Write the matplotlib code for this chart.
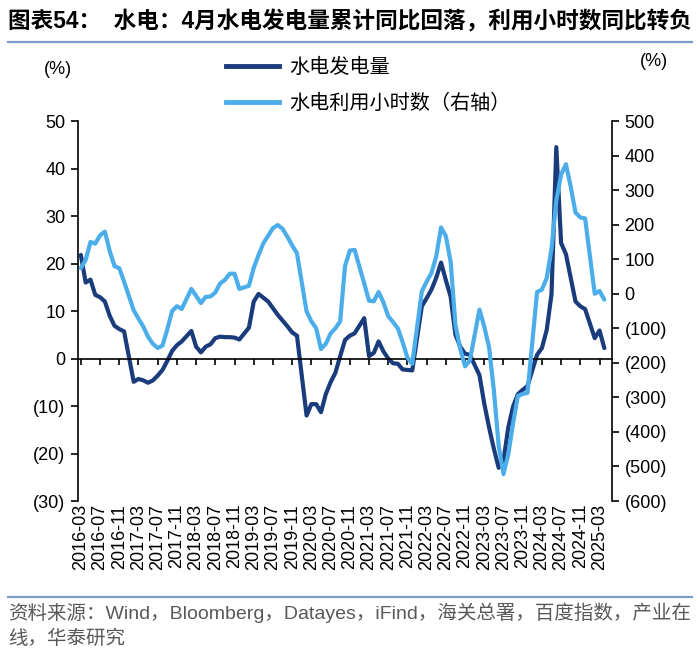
import numpy as np
import matplotlib
matplotlib.use("Agg")
import matplotlib.pyplot as plt
from matplotlib.lines import Line2D
from matplotlib.ticker import FuncFormatter, MultipleLocator

plt.rcParams['font.family'] = ['Liberation Sans', 'Noto Sans CJK SC']

# monthly axis, 2016-03 .. 2025-04 (January has no release -> None, line is joined across)
start_year, start_month, n_months = 2016, 3, 110
months = []
for k in range(n_months):
    mm = start_month - 1 + k
    months.append("%d-%02d" % (start_year + mm // 12, mm % 12 + 1))

# hydro generation, cumulative yoy (%), left axis
gen = [21.8, 16.0, 16.6, 13.4, 12.9, 12.0, 9.0, 6.9, 6.2, 5.7,
       None, -4.9, -4.3, -4.6, -5.1, -4.6, -3.6, -2.4, -0.5, 1.6,
       2.8, 3.6, None, 5.8, 2.5, 1.3, 2.5, 3.0, 4.3, 4.6,
       4.5, 4.5, 4.4, 4.0, None, 6.5, 12.0, 13.6, 12.8, 12.0,
       10.6, 9.2, 8.0, 6.8, 5.5, 4.8, None, -12.0, -9.6, -9.6,
       -11.3, -7.5, -5.0, -3.0, 0.5, 3.9, 4.8, 5.3, None, 8.5,
       0.5, 1.2, 3.6, 1.5, 0.0, -1.0, -1.1, -2.3, -2.4, -2.5,
       None, 11.0, 12.7, 14.5, 17.0, 20.2, 16.5, 13.0, 5.0, 2.5,
       1.0, 0.8, None, -3.5, -9.5, -14.5, -19.0, -23.0, -21.5, -14.5,
       -10.1, -7.5, -6.6, -5.8, None, 0.8, 2.2, 6.0, 13.5, 44.5,
       24.3, 22.0, 17.0, 12.0, 11.0, 10.4, None, 4.3, 5.9, 2.2]

# hydro utilisation hours yoy (%), right axis
hours = [74, 98, 150, 145, 169, 180, 124, 80, 74, 35,
         None, -48, -72, -95, -125, -145, -157, -150, -103, -50,
         -36, -44, None, 14, -6, -27, -9, -8, 4, 30,
         40, 58, 58, 14, None, 23, 75, 112, 146, 168,
         190, 199, 188, 165, 140, 117, None, -51, -80, -100,
         -160, -145, -115, -100, -80, 80, 125, 127, None, 30,
         -20, -22, 5, -25, -65, -82, -100, -140, -185, -203,
         None, 7, 35, 60, 108, 192, 167, 92, -90, -160,
         -210, -193, None, -46, -95, -155, -280, -440, -522, -465,
         -375, -296, -290, -287, None, 5, 12, 45, 130, 270,
         345, 375, 310, 235, 221, 218, None, 0, 8, -17]

labels = ['水电发电量', '水电利用小时数（右轴）']
dark = '#1A3B7C'
light = '#4BAEEA'


def paren(v, pos):
    v = int(round(v))
    return "(%d)" % -v if v < 0 else "%d" % v


x = np.arange(n_months)
g = np.array(gen, dtype=float)
h = np.array(hours, dtype=float)

fig = plt.figure(figsize=(7, 6.66), dpi=100)
ax = fig.add_axes([0.1114, 0.2477, 0.7629, 0.5706])
ax2 = ax.twinx()

mg = ~np.isnan(g)
mh = ~np.isnan(h)
ax.plot(x[mg], g[mg], color=dark, lw=3.0, solid_joinstyle='round', solid_capstyle='round')
ax2.plot(x[mh], h[mh], color=light, lw=3.0, solid_joinstyle='round', solid_capstyle='round')

ax.set_xlim(-0.6, 110.6)
ax.set_ylim(-30, 50)
ax2.set_ylim(-600, 500)
ax.yaxis.set_major_locator(MultipleLocator(10))
ax2.yaxis.set_major_locator(MultipleLocator(100))
ax.yaxis.set_major_formatter(FuncFormatter(paren))
ax2.yaxis.set_major_formatter(FuncFormatter(paren))

for a in (ax, ax2):
    a.spines['top'].set_visible(False)
    for s in a.spines.values():
        s.set_linewidth(1.2)
ax.spines['right'].set_visible(False)
ax2.spines['left'].set_visible(False)
ax2.spines['bottom'].set_visible(False)
ax.spines['bottom'].set_position(('data', 0))

ax.set_xticks(x[::4])
ax.tick_params(axis='x', direction='out', length=4, width=1.2, labelbottom=False)
ax.tick_params(axis='y', direction='out', length=5, width=1.2, labelsize=13, pad=4)
ax2.tick_params(axis='y', direction='out', length=5, width=1.2, labelsize=13, pad=4)

sec = ax.secondary_xaxis(0)
sec.set_xticks(x[::4], labels=months[::4], rotation=90)
sec.spines['bottom'].set_visible(False)
sec.tick_params(length=0, pad=2, labelsize=13)

fig.text(0.083, 0.895, '(%)', fontsize=13, ha='center', va='center')
fig.text(0.934, 0.907, '(%)', fontsize=13, ha='center', va='center')

handles = [Line2D([], [], color=dark, lw=3.5), Line2D([], [], color=light, lw=3.5)]
fig.legend(handles, labels, loc='upper left', bbox_to_anchor=(0.323, 0.914), frameon=False,
           prop={'family': ['Noto Sans CJK SC'], 'size': 14.5}, handlelength=2.65,
           handletextpad=0.5, labelspacing=0.75, borderpad=0, borderaxespad=0)

fig.text(0.011, 0.967, '图表54：  水电：4月水电发电量累计同比回落，利用小时数同比转负',
         fontsize=16.3, fontweight='bold', ha='left', va='center')
fig.add_artist(Line2D([0.012, 0.988], [0.937, 0.937], transform=fig.transFigure,
                      color='#7F9CC8', lw=1.6))
fig.add_artist(Line2D([0.012, 0.988], [0.104, 0.104], transform=fig.transFigure,
                      color='#7F9CC8', lw=1.6))
fig.text(0.011, 0.095, '资料来源：Wind，Bloomberg，Datayes，iFind，海关总署，百度指数，产业在\n线，华泰研究',
         fontsize=14, color='#595959', ha='left', va='top', linespacing=1.45)

fig.savefig('out.png', dpi=100)
